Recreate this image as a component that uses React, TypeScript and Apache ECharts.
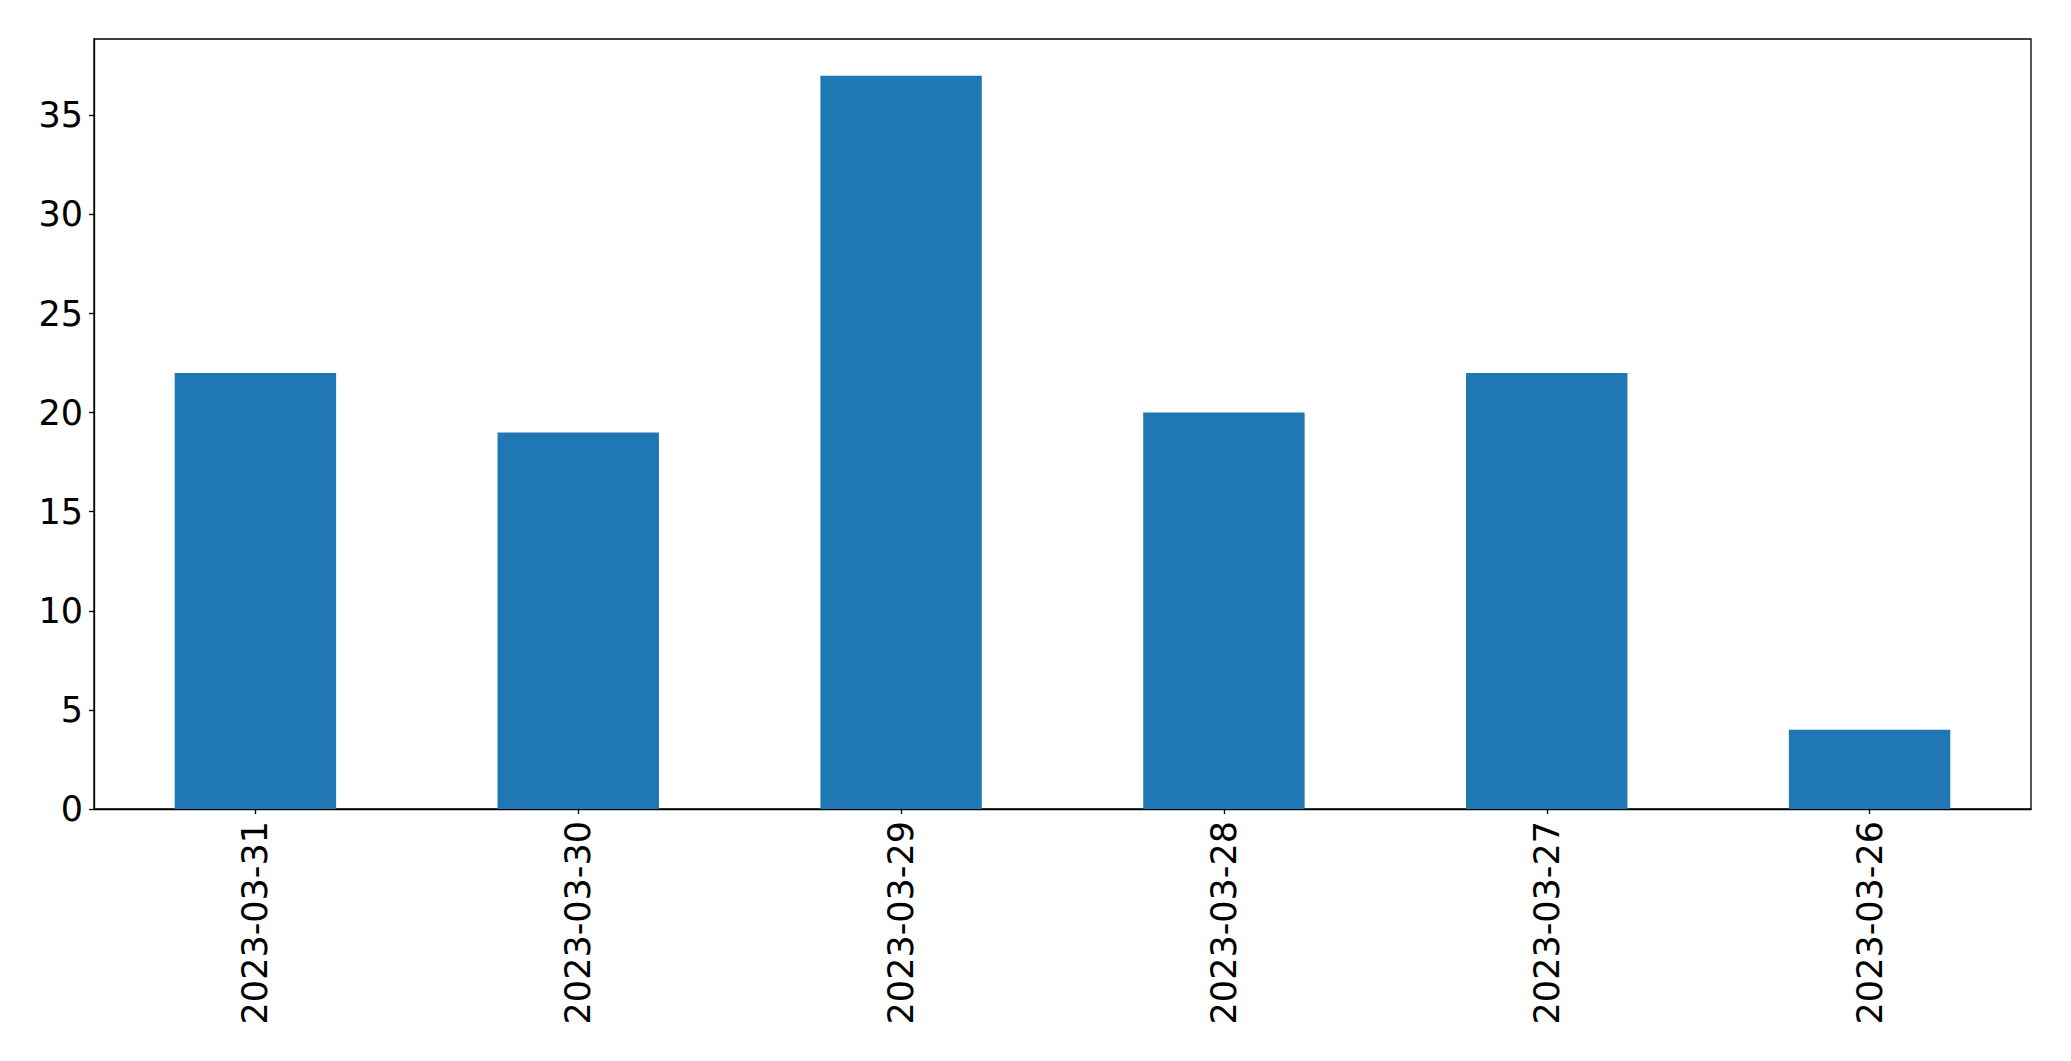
import React, { useEffect, useRef } from "react";
import * as echarts from "echarts";

const categories = ["2023-03-31", "2023-03-30", "2023-03-29", "2023-03-28", "2023-03-27", "2023-03-26"];
const counts = [22, 19, 37, 20, 22, 4];
const yMax = 38.85;
const yInterval = 5;

export default function App() {
  const ref = useRef<HTMLDivElement>(null);
  useEffect(() => {
    if (!ref.current) return;
    const chart = echarts.init(ref.current, undefined, { renderer: "svg" });
    const font = "DejaVu Sans";
    chart.setOption({
      animation: false,
      backgroundColor: "#ffffff",
      grid: {
        left: 94,
        top: 39,
        width: 1937,
        height: 770,
        show: true,
        borderColor: "#000000",
        borderWidth: 1.3,
        backgroundColor: "transparent",
      },
      xAxis: {
        type: "category",
        data: categories,
        axisLine: { show: true, lineStyle: { color: "#000", width: 1.3 } },
        axisTick: { show: true, alignWithLabel: true, length: 5, lineStyle: { color: "#000", width: 1.3 } },
        axisLabel: {
          rotate: 90,
          fontFamily: font,
          fontSize: 35,
          color: "#000",
          margin: 12,
          interval: 0,
        },
        splitLine: { show: false },
      },
      yAxis: {
        type: "value",
        min: 0,
        max: yMax,
        interval: yInterval,
        axisLine: { show: true, lineStyle: { color: "#000", width: 1.3 } },
        axisTick: { show: true, length: 5, lineStyle: { color: "#000", width: 1.3 } },
        axisLabel: {
          fontFamily: font,
          fontSize: 35,
          color: "#000",
          margin: 11,
          showMaxLabel: false,
          formatter: (v: number) => (v % yInterval === 0 ? String(v) : ""),
        },
        splitLine: { show: false },
      },
      series: [
        {
          type: "bar",
          data: counts,
          barWidth: "50%",
          itemStyle: { color: "#1f77b4" },
        },
      ],
    });
    return () => chart.dispose();
  }, []);
  return (
    <div
      ref={ref}
      style={{ position: "fixed", left: 0, top: 0, width: 2071, height: 1061, background: "#fff" }}
    />
  );
}
